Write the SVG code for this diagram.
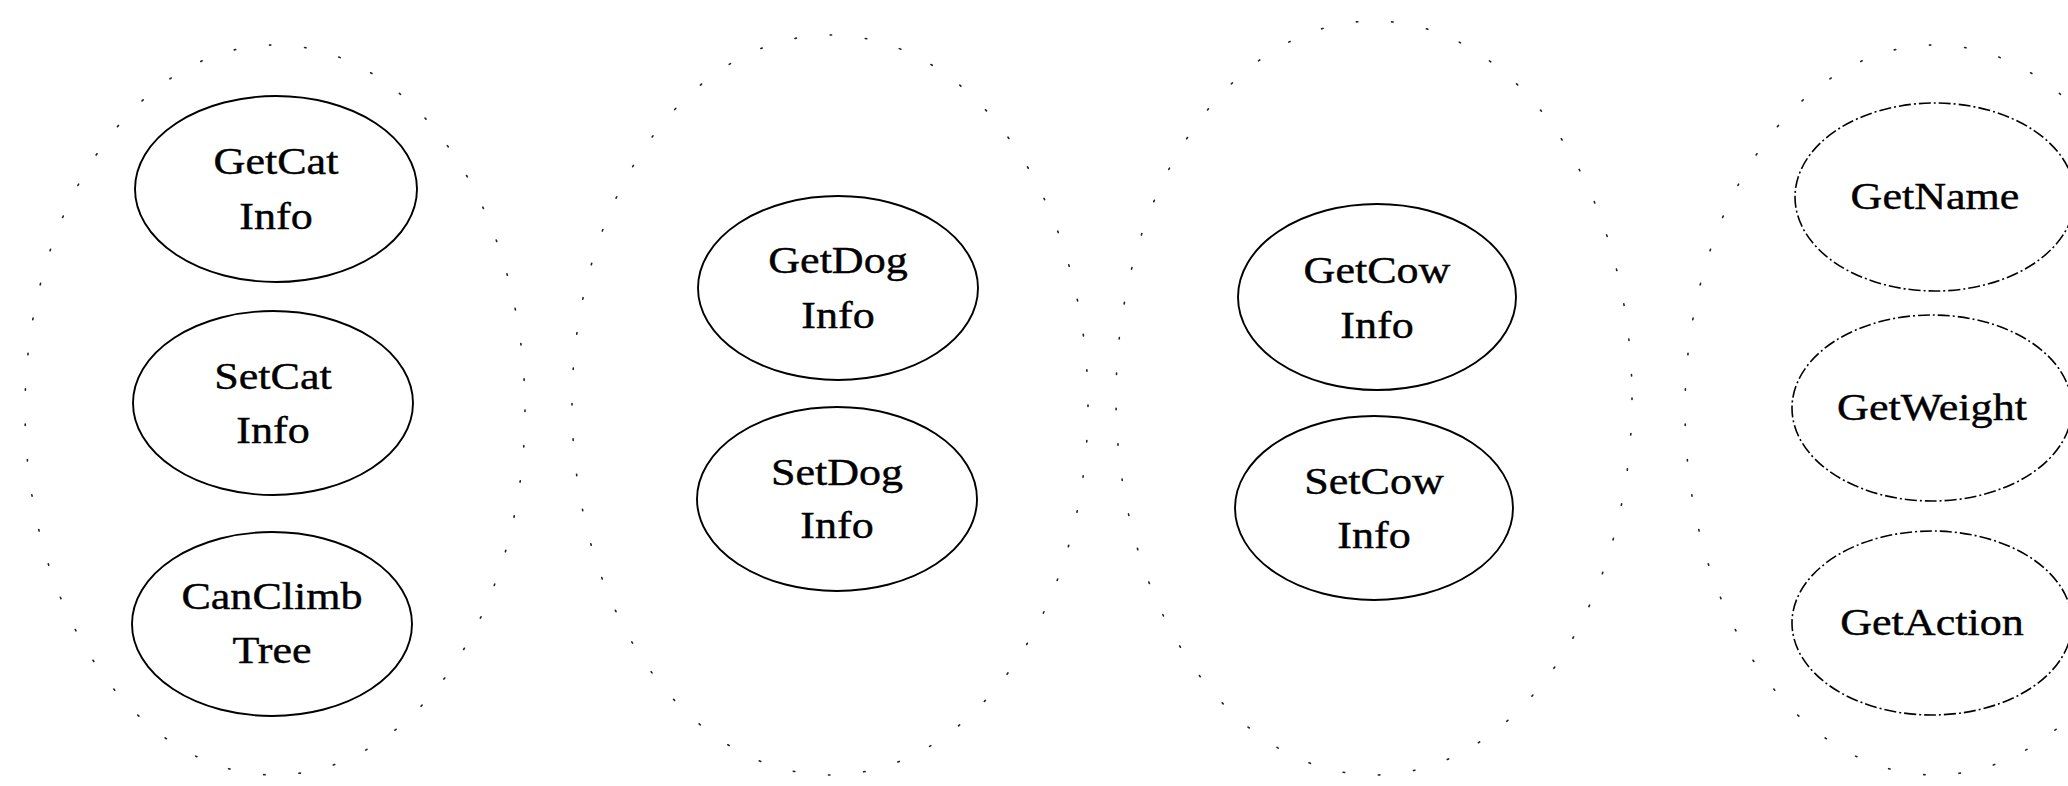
<svg xmlns="http://www.w3.org/2000/svg" width="2068" height="786" viewBox="0 0 2068 786">
<style>
  .node { fill: none; stroke: #000; stroke-width: 1.9; }
  .abs { fill: none; stroke: #000; stroke-width: 1.6; stroke-dasharray: 12 3 2 3; }
  .grp { fill: none; stroke: #222; stroke-width: 1.6; stroke-dasharray: 1.5 34; stroke-linecap: round; }
  .lbl { font-family: "Liberation Serif", "Times New Roman", serif; font-size: 38px; fill: #000; stroke: #000; stroke-width: 0.4; text-anchor: middle; }
</style>
<rect width="2068" height="786" fill="#fff"/>
<g id="groups">
  <ellipse id="cat-group" class="grp" cx="275" cy="410" rx="250" ry="365"/>
  <ellipse id="dog-group" class="grp" cx="830" cy="405" rx="258" ry="370"/>
  <ellipse id="cow-group" class="grp" cx="1374" cy="398" rx="258" ry="377"/>
  <ellipse id="base-group" class="grp" cx="1935" cy="410" rx="250" ry="365"/>
</g>
<g id="connectors"></g>
<g id="GetCatInfo" transform="translate(276,189)">
  <ellipse class="node" rx="141" ry="93"/>
  <text class="lbl" transform="scale(1.16,1)"><tspan x="0" y="-15">GetCat</tspan><tspan x="0" y="40">Info</tspan></text>
</g>
<g id="SetCatInfo" transform="translate(273,403)">
  <ellipse class="node" rx="140" ry="92"/>
  <text class="lbl" transform="scale(1.16,1)"><tspan x="0" y="-14">SetCat</tspan><tspan x="0" y="40">Info</tspan></text>
</g>
<g id="CanClimbTree" transform="translate(272,624)">
  <ellipse class="node" rx="140" ry="92"/>
  <text class="lbl" transform="scale(1.16,1)"><tspan x="0" y="-15">CanClimb</tspan><tspan x="0" y="39">Tree</tspan></text>
</g>
<g id="GetDogInfo" transform="translate(838,288)">
  <ellipse class="node" rx="140" ry="92"/>
  <text class="lbl" transform="scale(1.16,1)"><tspan x="0" y="-15">GetDog</tspan><tspan x="0" y="40">Info</tspan></text>
</g>
<g id="SetDogInfo" transform="translate(837,499)">
  <ellipse class="node" rx="140" ry="92"/>
  <text class="lbl" transform="scale(1.16,1)"><tspan x="0" y="-14">SetDog</tspan><tspan x="0" y="39">Info</tspan></text>
</g>
<g id="GetCowInfo" transform="translate(1377,297)">
  <ellipse class="node" rx="139" ry="93"/>
  <text class="lbl" transform="scale(1.16,1)"><tspan x="0" y="-14">GetCow</tspan><tspan x="0" y="41">Info</tspan></text>
</g>
<g id="SetCowInfo" transform="translate(1374,508)">
  <ellipse class="node" rx="139" ry="92"/>
  <text class="lbl" transform="scale(1.16,1)"><tspan x="0" y="-14">SetCow</tspan><tspan x="0" y="40">Info</tspan></text>
</g>
<g id="GetName" transform="translate(1935,197)">
  <ellipse class="abs" rx="140" ry="94"/>
  <text class="lbl" transform="scale(1.16,1)" x="0" y="12">GetName</text>
</g>
<g id="GetWeight" transform="translate(1932,408)">
  <ellipse class="abs" rx="140" ry="93"/>
  <text class="lbl" transform="scale(1.16,1)" x="0" y="12">GetWeight</text>
</g>
<g id="GetAction" transform="translate(1932,623)">
  <ellipse class="abs" rx="140" ry="92"/>
  <text class="lbl" transform="scale(1.16,1)" x="0" y="12">GetAction</text>
</g>
</svg>
